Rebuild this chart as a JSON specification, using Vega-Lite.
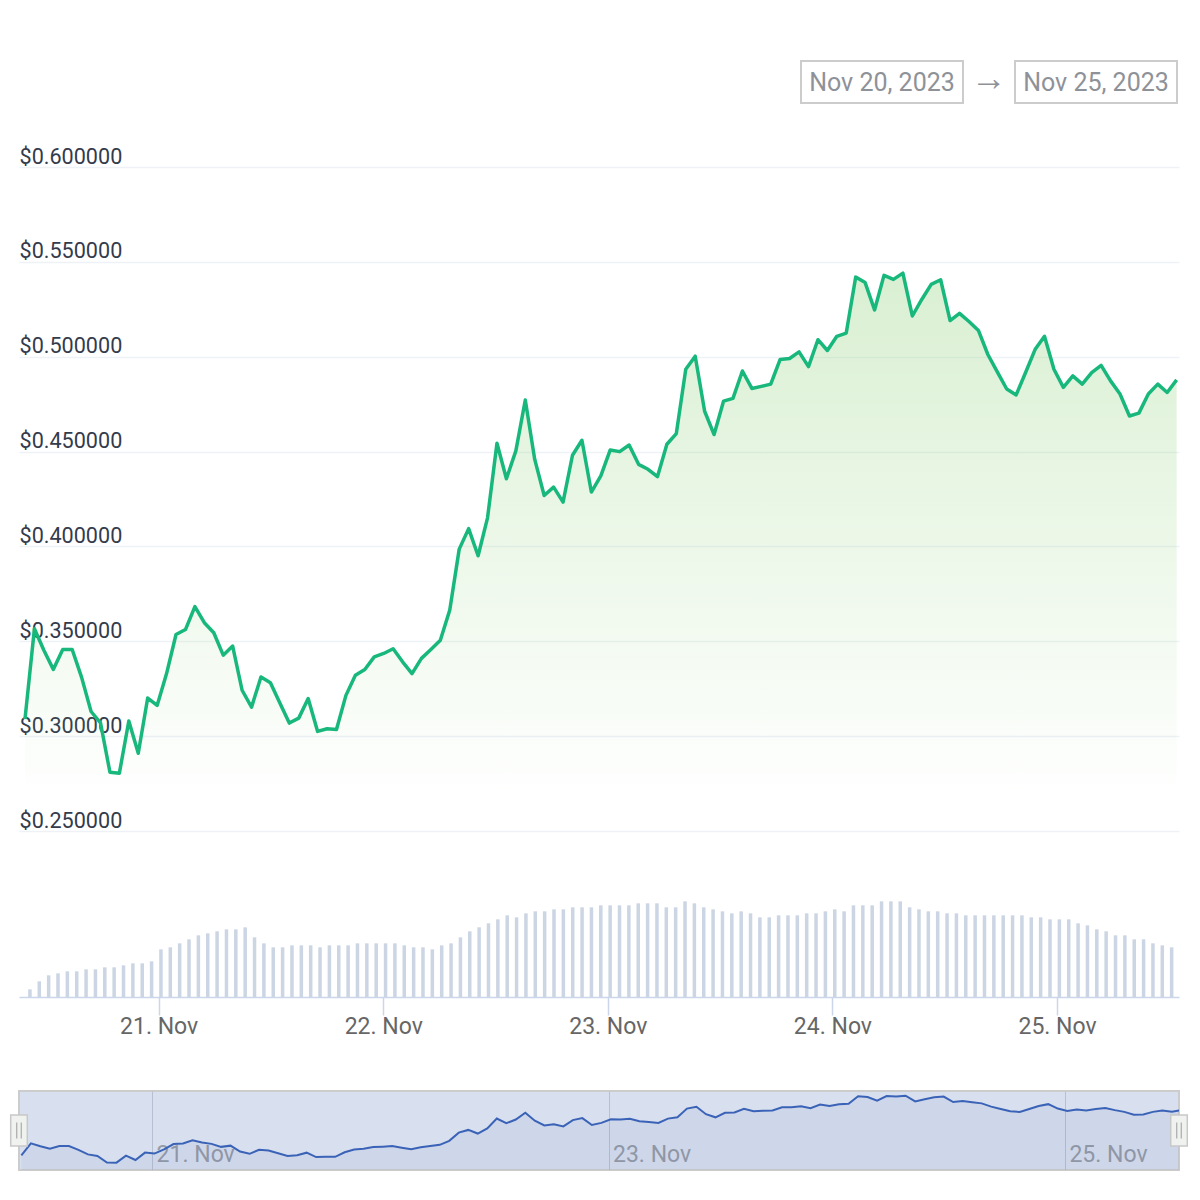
{
  "$schema": "https://vega.github.io/schema/vega-lite/v6.json",
  "background": "white",
  "padding": {"left": 8, "top": 60, "right": 5, "bottom": 5},
  "config": {
    "font": "Roboto",
    "view": {"stroke": null},
    "axis": {"labelFont": "Roboto", "titleFont": "Roboto"}
  },
  "datasets": {
    "range": [
      {"item": "from", "label": "Nov 20, 2023"},
      {"item": "to", "label": "Nov 25, 2023"}
    ],
    "handles": [
      {"t": "2023-11-20T10:00"},
      {"t": "2023-11-25T12:00"}
    ],
    "hourly": [
      {"t": "2023-11-20T10:15", "price": 0.3090, "volume": 23},
      {"t": "2023-11-20T11:15", "price": 0.3566, "volume": 47},
      {"t": "2023-11-20T12:15", "price": 0.3453, "volume": 65},
      {"t": "2023-11-20T13:15", "price": 0.3352, "volume": 71},
      {"t": "2023-11-20T14:15", "price": 0.3457, "volume": 77},
      {"t": "2023-11-20T15:15", "price": 0.3457, "volume": 77},
      {"t": "2023-11-20T16:15", "price": 0.3310, "volume": 83},
      {"t": "2023-11-20T17:15", "price": 0.3130, "volume": 83},
      {"t": "2023-11-20T18:15", "price": 0.3070, "volume": 89},
      {"t": "2023-11-20T19:15", "price": 0.2810, "volume": 89},
      {"t": "2023-11-20T20:15", "price": 0.2805, "volume": 95},
      {"t": "2023-11-20T21:15", "price": 0.3080, "volume": 101},
      {"t": "2023-11-20T22:15", "price": 0.2910, "volume": 101},
      {"t": "2023-11-20T23:15", "price": 0.3201, "volume": 107},
      {"t": "2023-11-21T00:15", "price": 0.3162, "volume": 143},
      {"t": "2023-11-21T01:15", "price": 0.3330, "volume": 149},
      {"t": "2023-11-21T02:15", "price": 0.3536, "volume": 161},
      {"t": "2023-11-21T03:15", "price": 0.3562, "volume": 173},
      {"t": "2023-11-21T04:15", "price": 0.3683, "volume": 185},
      {"t": "2023-11-21T05:15", "price": 0.3598, "volume": 191},
      {"t": "2023-11-21T06:15", "price": 0.3545, "volume": 197},
      {"t": "2023-11-21T07:15", "price": 0.3427, "volume": 203},
      {"t": "2023-11-21T08:15", "price": 0.3475, "volume": 203},
      {"t": "2023-11-21T09:15", "price": 0.3242, "volume": 209},
      {"t": "2023-11-21T10:15", "price": 0.3153, "volume": 179},
      {"t": "2023-11-21T11:15", "price": 0.3312, "volume": 161},
      {"t": "2023-11-21T12:15", "price": 0.3282, "volume": 149},
      {"t": "2023-11-21T13:15", "price": 0.3175, "volume": 149},
      {"t": "2023-11-21T14:15", "price": 0.3069, "volume": 155},
      {"t": "2023-11-21T15:15", "price": 0.3095, "volume": 155},
      {"t": "2023-11-21T16:15", "price": 0.3198, "volume": 155},
      {"t": "2023-11-21T17:15", "price": 0.3025, "volume": 149},
      {"t": "2023-11-21T18:15", "price": 0.3039, "volume": 155},
      {"t": "2023-11-21T19:15", "price": 0.3035, "volume": 155},
      {"t": "2023-11-21T20:15", "price": 0.3215, "volume": 155},
      {"t": "2023-11-21T21:15", "price": 0.3321, "volume": 161},
      {"t": "2023-11-21T22:15", "price": 0.3351, "volume": 161},
      {"t": "2023-11-21T23:15", "price": 0.3418, "volume": 161},
      {"t": "2023-11-22T00:15", "price": 0.3436, "volume": 161},
      {"t": "2023-11-22T01:15", "price": 0.3461, "volume": 161},
      {"t": "2023-11-22T02:15", "price": 0.3392, "volume": 155},
      {"t": "2023-11-22T03:15", "price": 0.3330, "volume": 149},
      {"t": "2023-11-22T04:15", "price": 0.3410, "volume": 149},
      {"t": "2023-11-22T05:15", "price": 0.3457, "volume": 143},
      {"t": "2023-11-22T06:15", "price": 0.3506, "volume": 155},
      {"t": "2023-11-22T07:15", "price": 0.3665, "volume": 161},
      {"t": "2023-11-22T08:15", "price": 0.3986, "volume": 179},
      {"t": "2023-11-22T09:15", "price": 0.4094, "volume": 197},
      {"t": "2023-11-22T10:15", "price": 0.3951, "volume": 209},
      {"t": "2023-11-22T11:15", "price": 0.4151, "volume": 221},
      {"t": "2023-11-22T12:15", "price": 0.4544, "volume": 233},
      {"t": "2023-11-22T13:15", "price": 0.4357, "volume": 245},
      {"t": "2023-11-22T14:15", "price": 0.4504, "volume": 239},
      {"t": "2023-11-22T15:15", "price": 0.4772, "volume": 251},
      {"t": "2023-11-22T16:15", "price": 0.4459, "volume": 257},
      {"t": "2023-11-22T17:15", "price": 0.4269, "volume": 257},
      {"t": "2023-11-22T18:15", "price": 0.4313, "volume": 263},
      {"t": "2023-11-22T19:15", "price": 0.4234, "volume": 263},
      {"t": "2023-11-22T20:15", "price": 0.4481, "volume": 269},
      {"t": "2023-11-22T21:15", "price": 0.4560, "volume": 269},
      {"t": "2023-11-22T22:15", "price": 0.4287, "volume": 269},
      {"t": "2023-11-22T23:15", "price": 0.4372, "volume": 275},
      {"t": "2023-11-23T00:15", "price": 0.4509, "volume": 275},
      {"t": "2023-11-23T01:15", "price": 0.4500, "volume": 275},
      {"t": "2023-11-23T02:15", "price": 0.4535, "volume": 275},
      {"t": "2023-11-23T03:15", "price": 0.4433, "volume": 281},
      {"t": "2023-11-23T04:15", "price": 0.4407, "volume": 281},
      {"t": "2023-11-23T05:15", "price": 0.4368, "volume": 281},
      {"t": "2023-11-23T06:15", "price": 0.4539, "volume": 269},
      {"t": "2023-11-23T07:15", "price": 0.4595, "volume": 269},
      {"t": "2023-11-23T08:15", "price": 0.4934, "volume": 287},
      {"t": "2023-11-23T09:15", "price": 0.5003, "volume": 281},
      {"t": "2023-11-23T10:15", "price": 0.4713, "volume": 269},
      {"t": "2023-11-23T11:15", "price": 0.4590, "volume": 263},
      {"t": "2023-11-23T12:15", "price": 0.4766, "volume": 257},
      {"t": "2023-11-23T13:15", "price": 0.4781, "volume": 251},
      {"t": "2023-11-23T14:15", "price": 0.4925, "volume": 257},
      {"t": "2023-11-23T15:15", "price": 0.4833, "volume": 251},
      {"t": "2023-11-23T16:15", "price": 0.4844, "volume": 239},
      {"t": "2023-11-23T17:15", "price": 0.4856, "volume": 239},
      {"t": "2023-11-23T18:15", "price": 0.4986, "volume": 245},
      {"t": "2023-11-23T19:15", "price": 0.4991, "volume": 245},
      {"t": "2023-11-23T20:15", "price": 0.5026, "volume": 245},
      {"t": "2023-11-23T21:15", "price": 0.4948, "volume": 251},
      {"t": "2023-11-23T22:15", "price": 0.5090, "volume": 251},
      {"t": "2023-11-23T23:15", "price": 0.5033, "volume": 257},
      {"t": "2023-11-24T00:15", "price": 0.5108, "volume": 263},
      {"t": "2023-11-24T01:15", "price": 0.5125, "volume": 257},
      {"t": "2023-11-24T02:15", "price": 0.5420, "volume": 275},
      {"t": "2023-11-24T03:15", "price": 0.5391, "volume": 275},
      {"t": "2023-11-24T04:15", "price": 0.5247, "volume": 275},
      {"t": "2023-11-24T05:15", "price": 0.5429, "volume": 287},
      {"t": "2023-11-24T06:15", "price": 0.5408, "volume": 287},
      {"t": "2023-11-24T07:15", "price": 0.5441, "volume": 287},
      {"t": "2023-11-24T08:15", "price": 0.5215, "volume": 269},
      {"t": "2023-11-24T09:15", "price": 0.5302, "volume": 263},
      {"t": "2023-11-24T10:15", "price": 0.5382, "volume": 257},
      {"t": "2023-11-24T11:15", "price": 0.5406, "volume": 257},
      {"t": "2023-11-24T12:15", "price": 0.5191, "volume": 251},
      {"t": "2023-11-24T13:15", "price": 0.5229, "volume": 251},
      {"t": "2023-11-24T14:15", "price": 0.5186, "volume": 245},
      {"t": "2023-11-24T15:15", "price": 0.5139, "volume": 245},
      {"t": "2023-11-24T16:15", "price": 0.5012, "volume": 245},
      {"t": "2023-11-24T17:15", "price": 0.4920, "volume": 245},
      {"t": "2023-11-24T18:15", "price": 0.4830, "volume": 245},
      {"t": "2023-11-24T19:15", "price": 0.4799, "volume": 245},
      {"t": "2023-11-24T20:15", "price": 0.4917, "volume": 245},
      {"t": "2023-11-24T21:15", "price": 0.5038, "volume": 239},
      {"t": "2023-11-24T22:15", "price": 0.5108, "volume": 239},
      {"t": "2023-11-24T23:15", "price": 0.4934, "volume": 233},
      {"t": "2023-11-25T00:15", "price": 0.4839, "volume": 233},
      {"t": "2023-11-25T01:15", "price": 0.4899, "volume": 233},
      {"t": "2023-11-25T02:15", "price": 0.4856, "volume": 221},
      {"t": "2023-11-25T03:15", "price": 0.4917, "volume": 215},
      {"t": "2023-11-25T04:15", "price": 0.4955, "volume": 203},
      {"t": "2023-11-25T05:15", "price": 0.4873, "volume": 197},
      {"t": "2023-11-25T06:15", "price": 0.4804, "volume": 185},
      {"t": "2023-11-25T07:15", "price": 0.4688, "volume": 185},
      {"t": "2023-11-25T08:15", "price": 0.4703, "volume": 173},
      {"t": "2023-11-25T09:15", "price": 0.4804, "volume": 173},
      {"t": "2023-11-25T10:15", "price": 0.4856, "volume": 161},
      {"t": "2023-11-25T11:15", "price": 0.4812, "volume": 155},
      {"t": "2023-11-25T12:15", "price": 0.4878, "volume": 149}
    ]
  },
  "spacing": 40,
  "bounds": "flush",
  "vconcat": [
    {
      "width": 1160,
      "height": 42,
      "data": {"name": "range"},
      "encoding": {
        "x": {
          "field": "item",
          "type": "nominal",
          "axis": null,
          "scale": {"domain": ["from", "to"], "range": [782, 1158], "paddingInner": 0.243, "paddingOuter": 0}
        }
      },
      "layer": [
        {"mark": {"type": "rect", "fill": "white", "stroke": "#cccccc", "strokeWidth": 2}},
        {
          "mark": {"type": "text", "fontSize": 25, "color": "#8e9298", "baseline": "middle", "dy": 1},
          "encoding": {"text": {"field": "label"}}
        },
        {
          "transform": [{"filter": "datum.item === 'from'"}],
          "mark": {"type": "text", "text": "→", "dx": 107, "dy": -3, "fontSize": 36, "color": "#8e9298", "baseline": "middle"}
        }
      ]
    },
    {
      "width": 1160,
      "height": 688,
      "data": {"name": "hourly"},
      "encoding": {
        "x": {
          "field": "t",
          "type": "temporal",
          "axis": null,
          "scale": {"domain": [
            {"year": 2023, "month": 11, "date": 20, "hours": 9, "minutes": 37},
            {"year": 2023, "month": 11, "date": 25, "hours": 12, "minutes": 30}
          ]}
        },
        "y": {
          "field": "price",
          "type": "quantitative",
          "scale": {"domain": [0.25, 0.6127], "nice": false, "zero": false},
          "axis": {
            "values": [0.25, 0.3, 0.35, 0.4, 0.45, 0.5, 0.55, 0.6],
            "format": "$.6f",
            "title": null,
            "grid": true,
            "gridColor": "#eef2f7",
            "gridWidth": 1.5,
            "domain": false,
            "ticks": false,
            "tickSize": 0,
            "labelAlign": "left",
            "labelBaseline": "alphabetic",
            "labelOffset": -4,
            "labelPadding": 0,
            "labelFontSize": 21.6,
            "labelColor": "#333b4d",
            "labelFlush": false,
            "labelOverlap": false,
            "labelBound": false
          }
        }
      },
      "layer": [
        {
          "mark": {
            "type": "area",
            "fill": {
              "gradient": "linear",
              "x1": 0, "y1": 0, "x2": 0, "y2": 1,
              "stops": [
                {"offset": 0, "color": "rgba(140,208,118,0.33)"},
                {"offset": 0.95, "color": "rgba(140,208,118,0.0)"}
              ]
            }
          },
          "encoding": {"y2": {"datum": 0.25}}
        },
        {"mark": {"type": "line", "color": "#18b87d", "strokeWidth": 3.5, "strokeJoin": "round"}}
      ]
    },
    {
      "width": 1160,
      "height": 180,
      "data": {"name": "hourly"},
      "mark": {"type": "bar", "color": "#cbd5e3", "size": 3.5},
      "encoding": {
        "x": {
          "field": "t",
          "type": "temporal",
          "scale": {"domain": [
            {"year": 2023, "month": 11, "date": 20, "hours": 9, "minutes": 37},
            {"year": 2023, "month": 11, "date": 25, "hours": 12, "minutes": 30}
          ]},
          "axis": {
            "values": [
              {"year": 2023, "month": 11, "date": 21},
              {"year": 2023, "month": 11, "date": 22},
              {"year": 2023, "month": 11, "date": 23},
              {"year": 2023, "month": 11, "date": 24},
              {"year": 2023, "month": 11, "date": 25}
            ],
            "format": "%-d. %b",
            "title": null,
            "offset": -54,
            "grid": false,
            "domainColor": "#ccd6eb",
            "domainWidth": 1.5,
            "tickColor": "#ccd6eb",
            "tickWidth": 1.5,
            "tickSize": 18,
            "labelPadding": 0,
            "labelFontSize": 23,
            "labelColor": "#666666",
            "labelFlush": false
          }
        },
        "y": {
          "field": "volume",
          "type": "quantitative",
          "scale": {"domain": [-162, 378], "nice": false},
          "axis": null
        }
      }
    },
    {
      "width": 1160,
      "height": 79,
      "view": {"fill": "#d8dfee", "stroke": "#cccccc", "strokeWidth": 2},
      "encoding": {
        "x": {
          "field": "t",
          "type": "temporal",
          "scale": {"domain": [
            {"year": 2023, "month": 11, "date": 20, "hours": 10, "minutes": 0},
            {"year": 2023, "month": 11, "date": 25, "hours": 12, "minutes": 0}
          ]},
          "axis": {
            "values": [
              {"year": 2023, "month": 11, "date": 21},
              {"year": 2023, "month": 11, "date": 23},
              {"year": 2023, "month": 11, "date": 25}
            ],
            "format": "%-d. %b",
            "title": null,
            "grid": true,
            "gridColor": "#b7bfd2",
            "gridWidth": 1,
            "domain": false,
            "ticks": false,
            "tickSize": 0,
            "labelAlign": "left",
            "labelBaseline": "alphabetic",
            "labelOffset": 4,
            "labelPadding": -9,
            "labelFontSize": 23,
            "labelColor": "#959ba6",
            "labelFlush": false,
            "labelOverlap": false
          }
        }
      },
      "layer": [
        {
          "data": {"name": "hourly"},
          "mark": {"type": "area", "color": "#335cad", "opacity": 0.06, "clip": true},
          "encoding": {
            "y": {"field": "price", "type": "quantitative", "scale": {"domain": [0.2516, 0.5626], "nice": false, "zero": false}, "axis": null},
            "y2": {"datum": 0.2516}
          }
        },
        {
          "data": {"name": "hourly"},
          "mark": {"type": "line", "color": "#3a63b7", "strokeWidth": 2, "clip": true},
          "encoding": {
            "y": {"field": "price", "type": "quantitative", "scale": {"domain": [0.2516, 0.5626], "nice": false, "zero": false}, "axis": null}
          }
        },
        {
          "data": {"name": "handles"},
          "mark": {"type": "tick", "orient": "vertical", "size": 31, "thickness": 16.6, "fill": "#eff2ef", "stroke": "#c8c8c8", "strokeWidth": 1.5, "opacity": 1}
        },
        {
          "data": {"name": "handles"},
          "mark": {"type": "tick", "orient": "vertical", "size": 16, "thickness": 1.3, "xOffset": -2.3, "color": "#b0b0b0", "opacity": 1}
        },
        {
          "data": {"name": "handles"},
          "mark": {"type": "tick", "orient": "vertical", "size": 16, "thickness": 1.3, "xOffset": 2.3, "color": "#b0b0b0", "opacity": 1}
        }
      ]
    }
  ]
}
